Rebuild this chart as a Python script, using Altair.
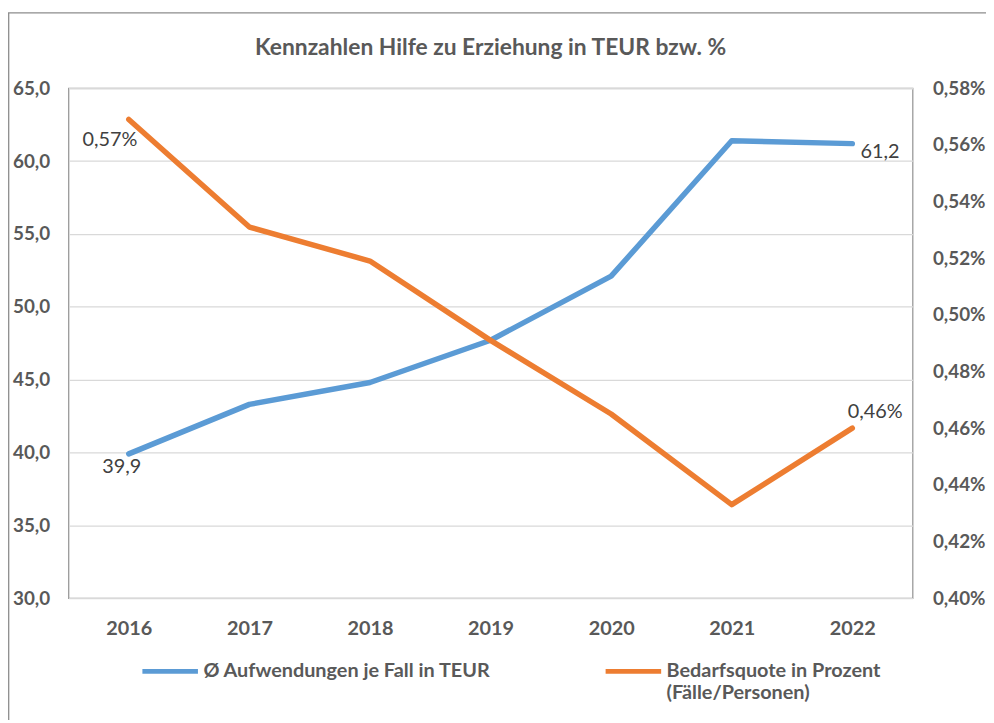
import altair as alt
import pandas as pd

years = ["2016", "2017", "2018", "2019", "2020", "2021", "2022"]
aufwendungen = [39.9, 43.3, 44.8, 47.7, 52.1, 61.4, 61.2]
quote = [0.569, 0.531, 0.519, 0.491, 0.465, 0.433, 0.460]

S_A = "Ø Aufwendungen je Fall in TEUR"
S_B = "Bedarfsquote in Prozent (Fälle/Personen)"

left_ticks = [30, 35, 40, 45, 50, 55, 60, 65]
right_ticks = [0.40, 0.42, 0.44, 0.46, 0.48, 0.50, 0.52, 0.54, 0.56, 0.58]

rows = []
for y, a in zip(years, aufwendungen):
    rows.append({"year": y, "series": S_A, "value": a})
for y, q in zip(years, quote):
    rows.append({"year": y, "series": S_B, "value": q})
df = pd.DataFrame(rows)

BLUE = "#5B9BD5"
ORANGE = "#ED7D31"
TXT = "#595959"
FONT = "Lato"

xenc = alt.X("year:O", scale=alt.Scale(type="point", padding=0.5),
             axis=alt.Axis(title=None, labelAngle=0, labelFont=FONT, labelFontSize=20,
                           labelFontWeight="bold", labelColor=TXT, labelPadding=21,
                           ticks=False, tickSize=0, domain=False, grid=False))

color = alt.Color("series:N",
                  scale=alt.Scale(domain=[S_A, S_B], range=[BLUE, ORANGE]),
                  legend=alt.Legend(
                      title=None, orient="none", direction="horizontal",
                      legendX=72, legendY=563, padding=0,
                      symbolType="M-1,-0.21L1,-0.21", symbolSize=3136,
                      symbolStrokeWidth=5,
                      labelFont=FONT, labelFontSize=20, labelFontWeight="bold",
                      labelColor=TXT, labelLimit=500, labelOffset=3,
                      labelBaseline="alphabetic",
                      columnPadding=104,
                      labelExpr="datum.label == '" + S_B + "' ? ['Bedarfsquote in Prozent', '(Fälle/Personen)'] : [datum.label, '']",
                  ))

base = alt.Chart(df)

yA_scale = alt.Scale(domain=[30, 65], nice=False, zero=False)
yB_scale = alt.Scale(domain=[0.40, 0.58], nice=False, zero=False)

line_a = base.transform_filter(alt.datum.series == S_A).mark_line(
    strokeWidth=5.5, strokeCap="round", strokeJoin="round"
).encode(
    x=xenc,
    y=alt.Y("value:Q", scale=yA_scale,
            axis=alt.Axis(orient="left", title=None, values=left_ticks,
                          labelExpr="replace(format(datum.value, '.1f'), '.', ',')",
                          labelFont=FONT, labelFontSize=19, labelFontWeight="bold",
                          labelColor=TXT, labelPadding=19, ticks=False, tickSize=0,
                          domain=False, grid=True, gridColor="#D9D9D9", gridWidth=1.3)),
    color=color,
)

line_b = base.transform_filter(alt.datum.series == S_B).mark_line(
    strokeWidth=5.5, strokeCap="round", strokeJoin="round"
).encode(
    x=xenc,
    y=alt.Y("value:Q", scale=yB_scale,
            axis=alt.Axis(orient="right", title=None, values=right_ticks,
                          labelExpr="replace(format(datum.value, '.2f'), '.', ',') + '%'",
                          labelFont=FONT, labelFontSize=19, labelFontWeight="bold",
                          labelColor=TXT, labelPadding=20, ticks=False, tickSize=0,
                          domain=False, grid=False)),
    color=color,
)


def label(series, year, fmt, suffix, dx, dy, scale):
    return base.transform_filter(
        (alt.datum.series == series) & (alt.datum.year == year)
    ).transform_calculate(
        lab="replace(format(datum.value, '" + fmt + "'), '.', ',') + '" + suffix + "'"
    ).mark_text(
        font=FONT, fontSize=20, color="#404040", dx=dx, dy=dy, align="center", baseline="middle"
    ).encode(
        x=xenc,
        y=alt.Y("value:Q", scale=scale, axis=None),
        text="lab:N",
    )


t1 = label(S_A, "2016", ".1f", "", -7, 13, yA_scale)
t2 = label(S_A, "2022", ".1f", "", 28, 8, yA_scale)
t3 = label(S_B, "2016", ".2f", "%", -19, 21, yB_scale)
t4 = label(S_B, "2022", ".2f", "%", 23, -16, yB_scale)

one = alt.Chart(pd.DataFrame({"k": [0]}))
border_v = one.mark_rule(color="#8C8C8C", strokeWidth=1.3).encode(
    x=alt.value(-60.3), y=alt.value(-76), y2=alt.value(637))
border_h = one.mark_rule(color="#8C8C8C", strokeWidth=1.3).encode(
    x=alt.value(-61), x2=alt.value(925), y=alt.value(-76))

chart = alt.layer(
    line_a, line_b, t1, t2, t3, t4, border_v, border_h
).resolve_scale(
    y="independent"
).properties(
    width=851, height=514,
    autosize=alt.AutoSizeParams(type="none"),
    padding={"left": 61, "top": 78, "right": 74, "bottom": 123},
    title=alt.TitleParams(
        "Kennzahlen Hilfe zu Erziehung in TEUR bzw. %",
        font=FONT, fontSize=23, fontWeight="bold", color=TXT,
        anchor="middle", offset=-48,
    ),
).configure_view(
    stroke="#999999", strokeWidth=1.3
)

chart.save("out.html", embed_options={"renderer": "svg", "actions": False})
